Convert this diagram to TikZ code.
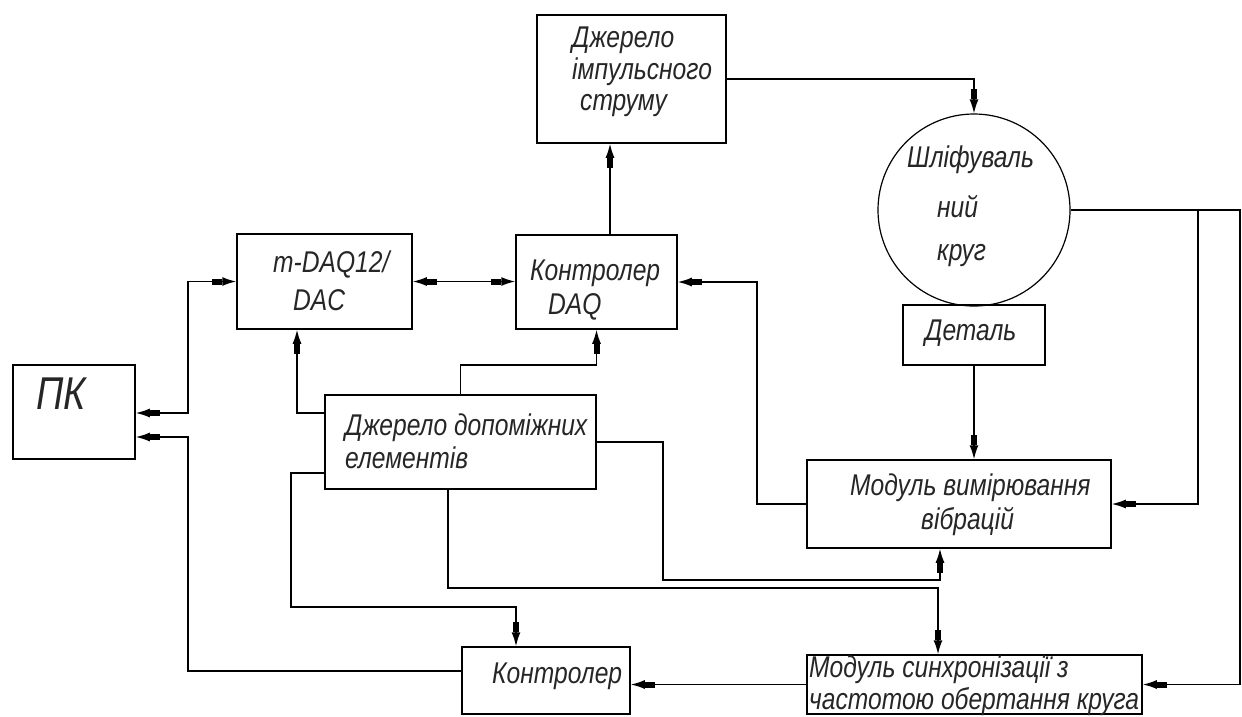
\documentclass[tikz,border=0pt]{standalone}
\usepackage{fontspec}
\newfontfamily\gost{Liberation Sans}[FakeStretch=0.82]
\usetikzlibrary{arrows.meta,calc}
\begin{document}
\begin{tikzpicture}[x=1pt,y=-1pt,
  box/.style={draw, line width=1.5pt, inner sep=0pt, rectangle},
  lbl/.style={font=\gost\itshape\fontsize{30}{34}\selectfont, text=black!85, inner sep=0pt, anchor=west},
  wire/.style={line width=1.5pt},
  arr/.style={wire, -{Rectangle[length=10pt,width=6pt] Latex[length=14pt,width=9pt]}},
  darr/.style={wire, {Latex[length=14pt,width=9pt] Rectangle[length=10pt,width=6pt]}-{Rectangle[length=10pt,width=6pt] Latex[length=14pt,width=9pt]}}]
\useasboundingbox (0,0) rectangle (1242,716);
% helper coordinates
\coordinate (x297) at (297,0);
\coordinate (x448) at (448,0);
\coordinate (x516) at (516,0);
\coordinate (x610) at (610,0);
\coordinate (x938) at (938,0);
\coordinate (x940) at (940,0);
\coordinate (y365) at (0,365);
\coordinate (y413) at (0,413);
\coordinate (y437) at (0,437);
\coordinate (y473) at (0,473);
\coordinate (y671) at (0,671);
\coordinate (j1) at (1198,210);
% boxes
\node[box, minimum width=122pt, minimum height=94pt] (pk) at (74,412) {};
\node[box, minimum width=175pt, minimum height=95pt] (mdaq) at (324.5,281.5) {};
\node[box, minimum width=161pt, minimum height=94pt] (cdaq) at (596.5,282) {};
\node[box, minimum width=189pt, minimum height=128pt] (dimp) at (631.5,79) {};
\node[draw, circle, line width=1.2pt, inner sep=0pt, minimum size=192pt] (circ) at (974,210) {};
\node[box, minimum width=142pt, minimum height=60pt] (det) at (974,335) {};
\node[box, minimum width=271pt, minimum height=94pt] (ddop) at (460.5,442) {};
\node[box, minimum width=304pt, minimum height=88pt] (mvib) at (959,504) {};
\node[box, minimum width=335pt, minimum height=59pt] (msync) at (974.5,684.5) {};
\node[box, minimum width=168pt, minimum height=67pt] (ctrl) at (546,680.5) {};
% labels
\node[lbl, font=\gost\itshape\fontsize{46}{50}\selectfont] (tpk) at (36,394) {ПК};
\node[lbl] (tdimp1) at (572,40) {Джерело};
\node[lbl] (tdimp2) at (572,72) {імпульсного};
\node[lbl] (tdimp3) at (580,106) {струму};
\node[lbl] (tmdaq1) at (273,264) {m-DAQ12/};
\node[lbl] (tmdaq2) at (293,300) {DAC};
\node[lbl] (tcdaq1) at (530,273) {Контролер};
\node[lbl] (tcdaq2) at (548,307) {DAQ};
\node[lbl] (tcirc1) at (907,160) {Шліфуваль};
\node[lbl] (tcirc2) at (937,207) {ний};
\node[lbl] (tcirc3) at (937,256) {круг};
\node[lbl] (tdet) at (925,333) {Деталь};
\node[lbl] (tddop1) at (345,428) {Джерело допоміжних};
\node[lbl] (tddop2) at (345,458) {елементів};
\node[lbl] (tmvib1) at (850,488) {Модуль вимірювання};
\node[lbl] (tmvib2) at (921,522) {вібрацій};
\node[lbl] (tmsync1) at (809,670) {Модуль синхронізації з};
\node[lbl] (tmsync2) at (809,702) {частотою обертання круга};
\node[lbl] (tctrl) at (492,676) {Контролер};
% connectors
\draw[darr] (pk.east |- y413) -- (188,413) |- (mdaq.west);
\draw[arr] (ctrl.west |- y671) -| (188,437) -- (pk.east |- y437);
\draw[darr] (mdaq.east) -- (mdaq.east -| cdaq.west);
\draw[arr] (cdaq.north -| x610) -- (dimp.south -| x610);
\draw[arr] (dimp.east) -| (circ.north);
\draw[arr] (circ.east) -- (j1) |- (mvib.east);
\draw[arr] (j1) -- (1240,210) |- (msync.east);
\draw[arr] (det.south) -- (det.south |- mvib.north);
\draw[arr] (mvib.west) -| (757,282) -- (cdaq.east);
\draw[arr] (ddop.west |- y413) -| (mdaq.south -| x297);
\draw[arr] (ddop.north) |- (cdaq.south |- y365) -- (cdaq.south);
\draw[arr] (ddop.west |- y473) -| (291,607) -| (ctrl.north -| x516);
\draw[arr] (ddop.east) -| (663,580) -| (mvib.south -| x940);
\draw[arr] (ddop.south -| x448) |- (938,588) -- (msync.north -| x938);
\draw[arr] (msync.west) -- (msync.west -| ctrl.east);
\end{tikzpicture}
\end{document}
